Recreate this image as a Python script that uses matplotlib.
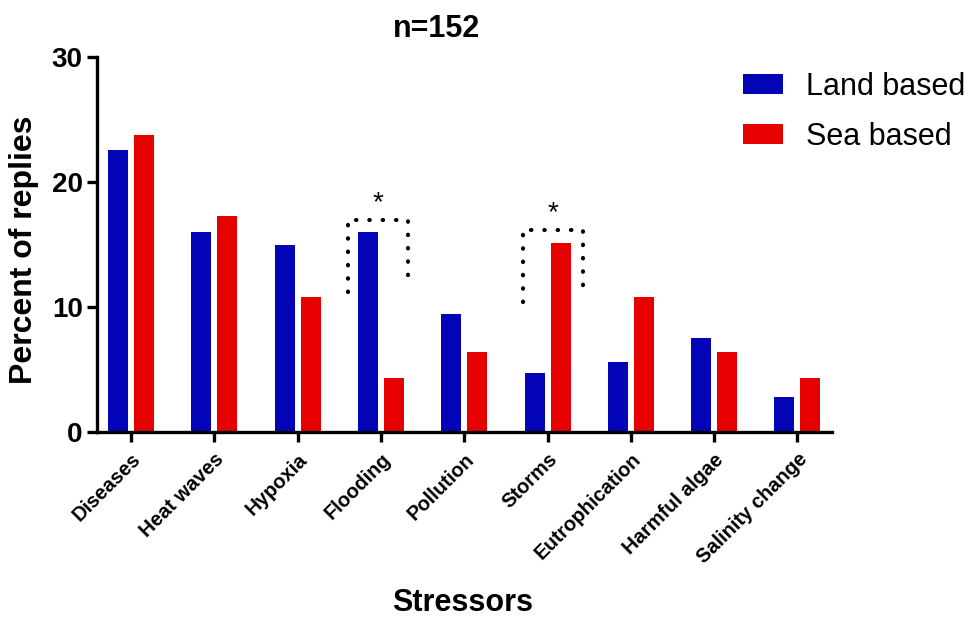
import numpy as np
import matplotlib
import matplotlib.pyplot as plt

matplotlib.use('agg')
plt.rcParams['font.family'] = ['Liberation Sans', 'DejaVu Sans']

stressors = ['Diseases', 'Heat waves', 'Hypoxia', 'Flooding', 'Pollution',
             'Storms', 'Eutrophication', 'Harmful algae', 'Salinity change']
land_based = [22.6, 16.0, 15.0, 16.0, 9.4, 4.7, 5.6, 7.5, 2.8]
sea_based = [23.8, 17.3, 10.8, 4.3, 6.4, 15.1, 10.8, 6.4, 4.3]

# significant pairs: category index, bracket top, left/right leg ends
sig_idx = [3, 5]
sig_top = [17.0, 16.2]
sig_legs = [(11.2, 11.5), (10.4, 10.8)]
sig_span = [(-0.39, 0.33), (-0.30, 0.42)]

blue = '#0303B8'
red = '#E60000'

W, H = 971, 617
fig = plt.figure(figsize=(W / 100, H / 100), dpi=100)
ax = fig.add_axes([0.0996, 0.3003, 0.7569, 0.6068])

x = np.arange(len(stressors))
w = 0.24
off = 0.156
ax.bar(x - off, land_based, w, color=blue, label='Land based')
ax.bar(x + off, sea_based, w, color=red, label='Sea based')

# dotted brackets with asterisks
for i, top, (l, r), (dl, dr) in zip(sig_idx, sig_top, sig_legs, sig_span):
    xl, xr = i + dl, i + dr
    ax.plot([xl, xl, xr, xr], [l, top, top, r], color='black', lw=3.0,
            dashes=[0.1, 3.1], dash_capstyle='round', solid_capstyle='round',
            clip_on=False)
    ax.text((xl + xr) / 2, top + 0.25, '*', ha='center', va='bottom', fontsize=20)

ax.set_xlim(-0.41, 8.41)
ax.set_ylim(0, 30)
ax.set_yticks([0, 10, 20, 30])
ax.set_xticks(x)
ax.set_xticklabels(stressors, rotation=45, ha='right', rotation_mode='anchor',
                   fontsize=14.5, fontweight='bold')
for lab in ax.get_yticklabels():
    lab.set_fontsize(20)
    lab.set_fontweight('bold')

for s in ['top', 'right']:
    ax.spines[s].set_visible(False)
for s in ['left', 'bottom']:
    ax.spines[s].set_linewidth(2.4)
ax.tick_params(axis='x', width=2.4, length=7, pad=6)
ax.tick_params(axis='y', width=2.4, length=7, pad=3)

fig.text(24 / W, 1 - 250 / H, 'Percent of replies', rotation=90, ha='center',
         va='center', fontsize=23, fontweight='bold')
fig.text(463 / W, 1 - 603 / H, 'Stressors', ha='center', va='center',
         fontsize=22, fontweight='bold')
fig.text(436 / W, 1 - 29 / H, 'n=152', ha='center', va='center',
         fontsize=22, fontweight='bold')

fig.legend(loc='upper left', bbox_to_anchor=(743 / W, 1 - 72 / H), frameon=False,
           fontsize=22, handlelength=1.31, handleheight=0.64,
           handletextpad=0.76, labelspacing=0.65, borderpad=0, borderaxespad=0)

plt.savefig('out.png', dpi=100)
plt.close()
